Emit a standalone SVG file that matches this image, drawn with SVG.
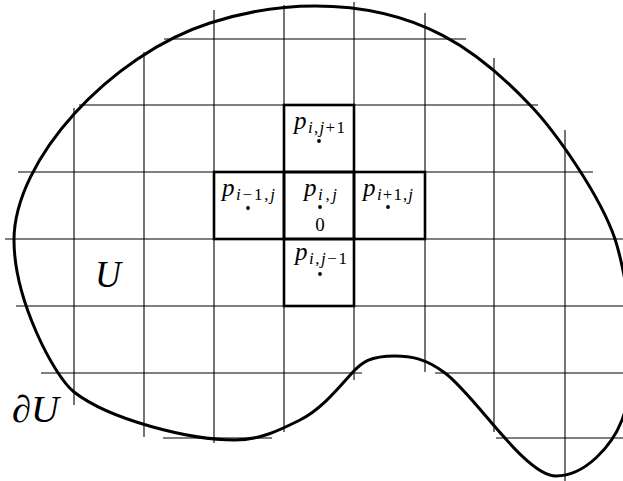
<svg xmlns="http://www.w3.org/2000/svg" width="623" height="481" viewBox="0 0 623 481">
<style>
.h{stroke:#555;stroke-width:1.6;fill:none}
.v{stroke:#000;stroke-width:1.1;fill:none}
.cell{fill:none;stroke:#000;stroke-width:2.6}
.bd{fill:none;stroke:#000;stroke-width:3}
.p{font-family:"Liberation Serif",serif;font-style:italic;font-size:25px;fill:#000}
.s{font-family:"Liberation Serif",serif;font-size:17px;fill:#000}
.z{font-family:"Liberation Serif",serif;font-size:19px;fill:#000}
.si{font-style:italic}
.big{font-family:"Liberation Serif",serif;font-style:italic;font-size:38px;fill:#000}
.dot{fill:#000}
</style>
<rect width="623" height="481" fill="#fff"/>
<g id="grid">
<line class="h" x1="164" y1="39" x2="466" y2="39"/>
<line class="h" x1="79" y1="105" x2="538" y2="105"/>
<line class="h" x1="18" y1="172" x2="593" y2="172"/>
<line class="h" x1="5" y1="239" x2="623" y2="239"/>
<line class="h" x1="16" y1="306" x2="623" y2="306"/>
<line class="h" x1="41" y1="373" x2="362" y2="373"/>
<line class="h" x1="435" y1="373" x2="623" y2="373"/>
<line class="h" x1="163" y1="438" x2="272" y2="438"/>
<line class="h" x1="496" y1="438" x2="623" y2="438"/>
<line class="v" x1="74" y1="108" x2="74" y2="405"/>
<line class="v" x1="144" y1="52" x2="144" y2="437"/>
<line class="v" x1="214" y1="10" x2="214" y2="443"/>
<line class="v" x1="284" y1="5" x2="284" y2="432"/>
<line class="v" x1="354" y1="2" x2="354" y2="380"/>
<line class="v" x1="425" y1="13" x2="425" y2="372"/>
<line class="v" x1="494" y1="58" x2="494" y2="432"/>
<line class="v" x1="565" y1="130" x2="565" y2="481"/>
</g>
<g id="boundary">
<path class="bd" d="M14,240 C14,160 110,55 210,23 C250,10 285,6 315,6 C420,6 480,52 530,105 C555,131 600,195 615,239 C623,263 645,360 622,420 C612,446 585,476 556,476 C525,476 475,395 445,373 C425,358 410,356 395,356 C370,356 362,362 352,373 C335,392 320,410 300,420 C280,430 260,440 235,440 C190,440 110,420 74,392 C54,376 14,300 14,240 Z"/>
</g>
<g id="cell-top">
<rect class="cell" x="284" y="105" width="70" height="67"/>
<text class="p" x="294" y="129">p</text>
<text class="s" x="308" y="133" textLength="37" lengthAdjust="spacing"><tspan class="si">i</tspan>,<tspan class="si">j</tspan>+1</text>
<circle class="dot" cx="319" cy="141" r="1.9"/>
</g>
<g id="cell-left">
<rect class="cell" x="214" y="172" width="70" height="67"/>
<text class="p" x="222" y="196">p</text>
<text class="s" x="236" y="200" textLength="39" lengthAdjust="spacing"><tspan class="si">i</tspan>−1,<tspan class="si">j</tspan></text>
<circle class="dot" cx="248" cy="208" r="1.9"/>
</g>
<g id="cell-center">
<rect class="cell" x="284" y="172" width="70" height="67"/>
<text class="p" x="304" y="196">p</text>
<text class="s" x="318" y="200" textLength="19" lengthAdjust="spacing"><tspan class="si">i</tspan>,<tspan class="si">j</tspan></text>
<circle class="dot" cx="320" cy="207" r="1.9"/>
<text class="z" x="320" y="231" text-anchor="middle">0</text>
</g>
<g id="cell-right">
<rect class="cell" x="354" y="172" width="71" height="67"/>
<text class="p" x="363" y="196">p</text>
<text class="s" x="377" y="200" textLength="36" lengthAdjust="spacing"><tspan class="si">i</tspan>+1,<tspan class="si">j</tspan></text>
<circle class="dot" cx="388" cy="207" r="1.9"/>
</g>
<g id="cell-bottom">
<rect class="cell" x="284" y="239" width="70" height="67"/>
<text class="p" x="295" y="260">p</text>
<text class="s" x="309" y="264" textLength="38" lengthAdjust="spacing"><tspan class="si">i</tspan>,<tspan class="si">j</tspan>−1</text>
<circle class="dot" cx="320" cy="274" r="1.9"/>
</g>
<g id="labels">
<text class="big" x="95" y="287" textLength="26" lengthAdjust="spacingAndGlyphs">U</text>
<text class="big" x="12" y="422" textLength="47" lengthAdjust="spacingAndGlyphs">∂U</text>
</g>
</svg>
